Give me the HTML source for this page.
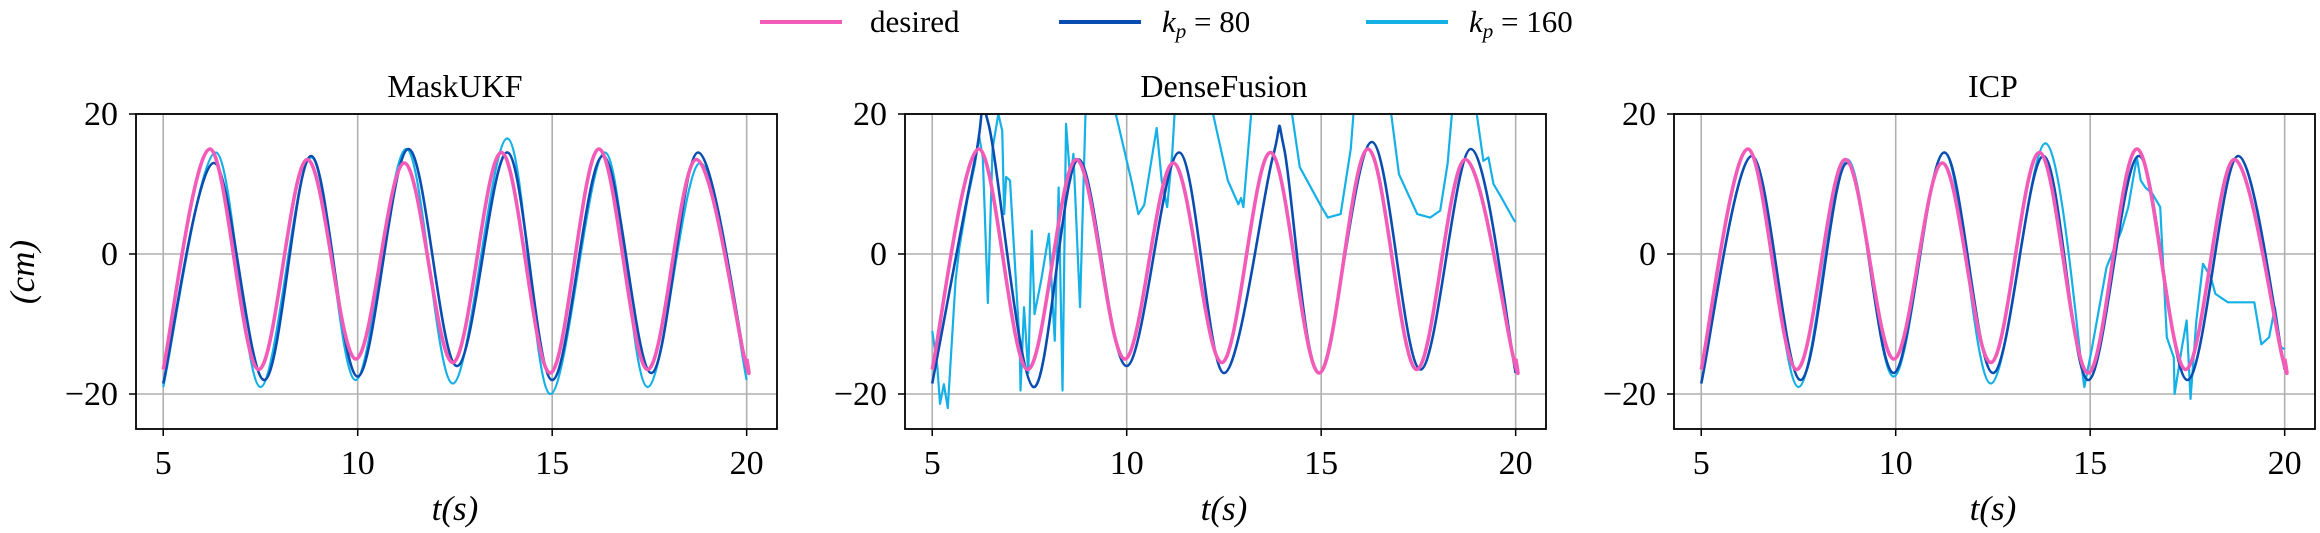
<!DOCTYPE html>
<html><head><meta charset="utf-8"><style>
html,body{margin:0;padding:0;background:#fff;}
svg, svg text{font-family:"Liberation Serif","DejaVu Serif",serif;}
svg{display:block;}
</style></head><body>
<svg id="chart" width="2320" height="533" viewBox="0 0 2320 533" xmlns="http://www.w3.org/2000/svg" font-family="Liberation Serif, serif">
<defs></defs>
<g>
  <g>
    <line x1="760" y1="22" x2="842" y2="22" stroke="#f25cb8" stroke-width="4"/>
    <text x="870" y="32" font-size="31" font-family="Liberation Serif, serif">desired</text>
  </g>
  <g>
    <line x1="1059" y1="22" x2="1141" y2="22" stroke="#0a4db0" stroke-width="4"/>
    <text x="1162" y="32" font-size="31" font-family="Liberation Serif, serif"><tspan font-style="italic">k</tspan><tspan font-style="italic" font-size="21" dy="6">p</tspan><tspan dy="-6"> = 80</tspan></text>
  </g>
  <g>
    <line x1="1366" y1="22" x2="1448" y2="22" stroke="#14b0e6" stroke-width="4"/>
    <text x="1469" y="32" font-size="31" font-family="Liberation Serif, serif"><tspan font-style="italic">k</tspan><tspan font-style="italic" font-size="21" dy="6">p</tspan><tspan dy="-6"> = 160</tspan></text>
  </g>
</g>
<g id="panels"></g>
</svg>
<script>
// shared categories / ticks
const xTicks = [5, 10, 15, 20];
const yTicks = [-20, 0, 20];
const panelTitles = ["MaskUKF", "DenseFusion", "ICP"];
// desired trajectory (t, value) at extrema
const desiredT = [5, 6.2, 7.45, 8.7, 9.95, 11.2, 12.45, 13.7, 14.95, 16.2, 17.45, 18.7, 19.95, 20];
const desiredV = [-16.5, 15, -16.5, 13.5, -15, 13, -15.5, 14.5, -17, 15, -16.5, 13.5, -15, -14.8];
// MaskUKF
const ukf80T = [5, 6.3, 7.6, 8.8, 10.0, 11.3, 12.55, 13.85, 15.0, 16.3, 17.55, 18.75, 20];
const ukf80V = [-18.5, 13, -18, 14, -17.5, 15, -16, 14.5, -18, 14, -17, 14.5, -16.5];
const ukf160T = [5, 6.35, 7.5, 8.8, 9.95, 11.25, 12.45, 13.85, 14.95, 16.35, 17.45, 18.8, 20];
const ukf160V = [-19, 14.5, -19, 13.8, -18, 15, -18.5, 16.5, -20, 14.5, -19, 13, -18];
// DenseFusion
const df80T = [5, 6.1, 6.45, 7.6, 8.75, 10.0, 11.35, 12.5, 13.75, 14.05, 14.95, 16.3, 17.55, 18.85, 20];
const df80V = [-18.5, 13.5, 18.5, -19, 13.5, -16, 14.5, -17, 13.7, 15, -17, 16, -16.5, 15, -17];
const df160T = [5, 5.13, 5.2, 5.3, 5.4, 5.6, 5.7, 5.9, 6.1, 6.2, 6.3, 6.35, 6.43, 6.55, 6.7, 6.8, 6.85, 6.9, 7.0, 7.1, 7.25, 7.27, 7.36, 7.47, 7.56, 7.63, 7.8, 8.0, 8.15, 8.25, 8.35, 8.44, 8.55, 8.63, 8.8, 8.94, 9.3, 9.72, 10.12, 10.3, 10.45, 10.77, 10.9, 11.04, 11.17, 11.23, 11.7, 12.22, 12.6, 12.87, 12.94, 13.0, 13.2, 13.7, 14.25, 14.45, 14.97, 15.17, 15.5, 15.76, 15.83, 16.3, 16.8, 17.0, 17.47, 17.8, 18.06, 18.25, 18.36, 18.7, 19.0, 19.17, 19.3, 19.43, 19.63, 19.96, 20];
const df160V = [-11, -16, -21.4, -18.6, -22, -3.8, 1, 7.6, 12.9, 17, 13.8, 6, -7, 15, 20, 17.6, 5.7, 11, 10.5, 1, -13, -19.5, -7.6, -17, 3.3, -8.6, -3.8, 2.9, -12.4, 9.5, -19.5, 18.6, 10.5, 14.3, -7.6, 20, 27, 20, 10.5, 5.7, 7, 18, 10.5, 6.7, 14.3, 20, 27, 20, 10.5, 7.1, 8, 6.7, 20, 27, 20, 12.4, 7.1, 5.2, 5.7, 15, 20, 27, 20, 11.4, 5.7, 5.2, 6.2, 12.9, 20, 27, 20, 13.3, 13.8, 10, 8.1, 4.8, 4.6];
// ICP
const icp80T = [5, 6.3, 7.55, 8.75, 9.95, 11.25, 12.5, 13.8, 14.95, 16.25, 17.5, 18.8, 20];
const icp80V = [-18.5, 14, -18, 13, -17, 14.5, -17, 14, -18, 14, -18, 14, -16.5];
const icp160T = [5, 6.3, 7.5, 8.75, 9.95, 11.25, 12.45, 13.85, 14.85, 15.05, 15.42, 15.8, 15.98, 16.05, 16.2, 16.3, 16.42, 16.6, 16.8, 16.97, 17.15, 17.17, 17.36, 17.48, 17.58, 17.73, 17.9, 18.1, 18.22, 18.54, 19.22, 19.4, 19.6, 19.75, 19.9, 20];
const icp160V = [-18.5, 14, -19, 13.5, -17.5, 14.5, -18.5, 15.8, -19, -13.3, -1.9, 3.3, 6.7, 9, 13.8, 10.5, 9.5, 8.6, 6.7, -11.9, -14.8, -20, -13.3, -9.5, -20.7, -9.5, -1.4, -3.3, -5.7, -6.9, -6.9, -12.9, -11.9, -7.6, -13.3, -13.6];

const panelLefts = [136, 905, 1674];
const axW = 641, axTop = 114, axBot = 429;
const xMin = 4.3, xMax = 20.78, yMin = -25, yMax = 20;
const colDesired = "#f25cb8", col80 = "#0a4db0", col160 = "#14b0e6";

// [t, v, colour, width, number of leading points drawn as smooth curve]
const panelsSeries = [
  [[ukf160T, ukf160V, col160, 2.2, 999], [ukf80T, ukf80V, col80, 2.6, 999], [desiredT, desiredV, colDesired, 3.6, 999]],
  [[df160T, df160V, col160, 2.2, 0], [df80T, df80V, col80, 2.6, 999], [desiredT, desiredV, colDesired, 3.6, 999]],
  [[icp160T, icp160V, col160, 2.2, 9], [icp80T, icp80V, col80, 2.6, 999], [desiredT, desiredV, colDesired, 3.6, 999]]
];
const seriesNames = ["kp160-line", "kp80-line", "desired-line"];

const NS = "http://www.w3.org/2000/svg";
const root = document.getElementById("panels");
const defs = document.querySelector("defs");
function mk(tag, attrs, parent) {
  const e = document.createElementNS(NS, tag);
  for (const k in attrs) e.setAttribute(k, attrs[k]);
  if (tag === "text") e.setAttribute("font-family", "Liberation Serif, serif");
  parent.appendChild(e);
  return e;
}
function buildPath(px, py, nSmooth) {
  let d = "M" + px[0].toFixed(2) + "," + py[0].toFixed(2);
  const n = px.length;
  for (let i = 0; i < n - 1; i++) {
    const x1 = px[i], y1 = py[i], x2 = px[i + 1], y2 = py[i + 1];
    if (i + 1 < nSmooth) {
      const lim = Math.min(n, nSmooth) - 1;
      const x0 = px[Math.max(0, i - 1)], y0 = py[Math.max(0, i - 1)];
      const j = Math.min(lim, i + 2);
      const x3 = px[j], y3 = py[j];
      const c1x = x1 + (x2 - x0) / 6, c1y = y1 + (y2 - y0) / 6;
      const c2x = x2 - (x3 - x1) / 6, c2y = y2 - (y3 - y1) / 6;
      d += " C" + c1x.toFixed(2) + "," + c1y.toFixed(2) + " " + c2x.toFixed(2) + "," + c2y.toFixed(2) + " " + x2.toFixed(2) + "," + y2.toFixed(2);
    } else {
      d += " L" + x2.toFixed(2) + "," + y2.toFixed(2);
    }
  }
  return d;
}
panelTitles.forEach((title, p) => {
  const L = panelLefts[p];
  const sx = v => L + (v - xMin) / (xMax - xMin) * axW;
  const sy = v => axBot - (v - yMin) / (yMax - yMin) * (axBot - axTop);
  const g = mk("g", {}, root);
  
  
  const cp = mk("clipPath", {id: "clip" + p}, defs);
  mk("rect", {x: L, y: axTop, width: axW, height: axBot - axTop}, cp);
  const grid = mk("g", {stroke: "#b0b0b0", "stroke-width": 1.6}, g);
  
  
  xTicks.forEach(t => mk("line", {x1: sx(t), x2: sx(t), y1: axTop, y2: axBot}, grid));
  yTicks.forEach(t => mk("line", {x1: L, x2: L + axW, y1: sy(t), y2: sy(t)}, grid));
  const lines = mk("g", {"clip-path": "url(#clip" + p + ")"}, g);
  panelsSeries[p].forEach((s, i) => {
    const px = s[0].map(sx), py = s[1].map(sy);
    const d = buildPath(px, py, s[4]);
    const path = mk("path", {d: d, fill: "none", stroke: s[2], "stroke-width": s[3], "stroke-linejoin": "round"}, lines);
    
    
  });
  const frame = mk("rect", {x: L, y: axTop, width: axW, height: axBot - axTop, fill: "none", stroke: "#000", "stroke-width": 1.8}, g);
  
  
  xTicks.forEach(t => {
    mk("line", {x1: sx(t), x2: sx(t), y1: axBot, y2: axBot + 7, stroke: "#000", "stroke-width": 1.5}, g);
    const tx = mk("text", {x: sx(t), y: axBot + 45, "font-size": 34, "text-anchor": "middle"}, g);
    tx.textContent = t;
    
    
  });
  yTicks.forEach(t => {
    mk("line", {x1: L - 7, x2: L, y1: sy(t), y2: sy(t), stroke: "#000", "stroke-width": 1.5}, g);
    const ty = mk("text", {x: L - 18, y: sy(t) + 11, "font-size": 34, "text-anchor": "end"}, g);
    ty.textContent = t < 0 ? "\u2212" + Math.abs(t) : String(t);
    
    
  });
  const tt = mk("text", {x: sx(12.5), y: 97, "font-size": 32, "text-anchor": "middle"}, g);
  tt.textContent = title;
  
  
  const xl = mk("text", {x: sx(12.5), y: 520, "font-size": 35, "text-anchor": "middle", "font-style": "italic"}, g);
  xl.textContent = "t(s)";
  
  
});
const yl = mk("text", {x: 0, y: 0, "font-size": 35, "text-anchor": "middle", "font-style": "italic", transform: "translate(34,272) rotate(-90)"}, root);
yl.textContent = "(cm)";


</script>
</body></html>
